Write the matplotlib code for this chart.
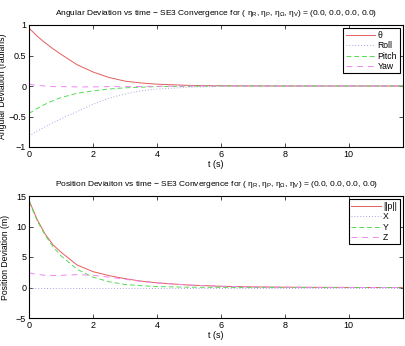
import matplotlib
matplotlib.use('Agg')
import matplotlib.pyplot as plt

plt.rcParams['font.family'] = ['Liberation Sans', 'DejaVu Sans']
plt.rcParams['mathtext.fontset'] = 'custom'
plt.rcParams['mathtext.rm'] = 'Liberation Sans'
plt.rcParams['mathtext.it'] = 'Liberation Sans'

# sample times (s)
t = [0, 0.25, 0.5, 0.75, 1, 1.5, 2, 2.5, 3, 3.5, 4, 5, 6, 7, 8, 9, 10, 11, 11.7]

# angular deviation (radians)
theta = [0.95, 0.82, 0.71, 0.61, 0.52, 0.35, 0.23, 0.14, 0.08, 0.05, 0.03, 0.01, 0.004, 0.002, 0.001, 0, 0, 0, 0]
roll = [-0.82, -0.74, -0.67, -0.60, -0.54, -0.42, -0.30, -0.20, -0.13, -0.08, -0.05, -0.02, -0.006, -0.002, 0, 0, 0, 0, 0]
pitch = [-0.45, -0.37, -0.30, -0.24, -0.19, -0.12, -0.08, -0.05, -0.03, -0.02, -0.01, -0.004, 0, 0, 0, 0, 0, 0, 0]
yaw = [0.03, 0.01, 0.0, -0.01, -0.01, -0.015, -0.015, -0.01, -0.01, -0.008, -0.005, -0.002, 0, 0, 0, 0, 0, 0, 0]

# position deviation (m)
p_norm = [14.3, 11.2, 8.8, 7.0, 5.8, 3.7, 2.6, 1.95, 1.45, 1.05, 0.77, 0.4, 0.2, 0.1, 0.05, 0.02, 0.01, 0, 0]
px = [0] * len(t)
py = [14.1, 11.0, 8.6, 6.7, 5.2, 3.0, 1.7, 0.95, 0.5, 0.3, 0.15, 0.05, 0.02, 0, 0, 0, 0, 0, 0]
pz = [2.4, 2.15, 2.0, 1.95, 2.0, 2.1, 2.0, 1.7, 1.35, 1.0, 0.75, 0.4, 0.2, 0.1, 0.05, 0.02, 0.01, 0, 0]

etas = r'( $\mathregular{\eta_R}$, $\mathregular{\eta_P}$, $\mathregular{\eta_\Omega}$, $\mathregular{\eta_V}$) = (0.0, 0.0, 0.0, 0.0)'
ang_title = 'Angular Deviation vs time \u2212 SE3 Convergence for ' + etas
pos_title = 'Position Deviaiton vs time \u2212 SE3 Convergence for ' + etas

RED = '#e35d5d'
BLUE = '#a8a8e8'
GREEN = '#55dd55'
MAGENTA = '#ee88ee'

fig = plt.figure(figsize=(4.05, 3.46), dpi=100)
ax1 = fig.add_axes([29 / 405, 1 - 147 / 346, 374 / 405, 122 / 346])
ax2 = fig.add_axes([29 / 405, 1 - 318 / 346, 374 / 405, 122 / 346])

lw = 0.7
ax1.plot(t, theta, color=RED, lw=lw, label='\u03b8')
ax1.plot(t, roll, color=BLUE, lw=lw, ls=(0, (1, 2)), label='Roll')
ax1.plot(t, pitch, color=GREEN, lw=lw, ls=(0, (5, 3)), label='Pitch')
ax1.plot(t, yaw, color=MAGENTA, lw=lw, ls=(0, (6, 5)), label='Yaw')
ax1.set_ylim(-1, 1)
ax1.set_yticks([-1, -0.5, 0, 0.5, 1])
ax1.set_yticklabels(['\u22121', '\u22120.5', '0', '0.5', '1'])
ax1.set_ylabel('Angular Deviation (radians)', fontsize=6.2, labelpad=1)
ax1.set_title(ang_title, fontsize=6.0, pad=7)

ax2.plot(t, p_norm, color=RED, lw=lw, label='||p||')
ax2.plot(t, px, color=BLUE, lw=lw, ls=(0, (1, 2)), label='X')
ax2.plot(t, py, color=GREEN, lw=lw, ls=(0, (5, 3)), label='Y')
ax2.plot(t, pz, color=MAGENTA, lw=lw, ls=(0, (6, 5)), label='Z')
ax2.set_ylim(-5, 15)
ax2.set_yticks([-5, 0, 5, 10, 15])
ax2.set_yticklabels(['\u22125', '0', '5', '10', '15'])
ax2.set_ylabel('Position Deviation (m)', fontsize=6.2, labelpad=4)
ax2.set_title(pos_title, fontsize=6.0, pad=7)

for ax in (ax1, ax2):
    ax.set_xlim(0, 11.7)
    ax.set_xticks([0, 2, 4, 6, 8, 10])
    ax.set_xlabel('t (s)', fontsize=6.5, labelpad=1)
    ax.tick_params(direction='in', top=True, right=True, labelsize=6.5, length=3, width=0.5, pad=2)
    for s in ax.spines.values():
        s.set_linewidth(0.8)
    leg = ax.legend(loc='upper right', fontsize=6.2, fancybox=False, framealpha=1,
                    edgecolor='black', borderpad=0.3, labelspacing=0.15,
                    handlelength=3.4, handletextpad=0.3, borderaxespad=0.4)
    leg.get_frame().set_linewidth(0.8)

fig.savefig('out.png', dpi=100)
